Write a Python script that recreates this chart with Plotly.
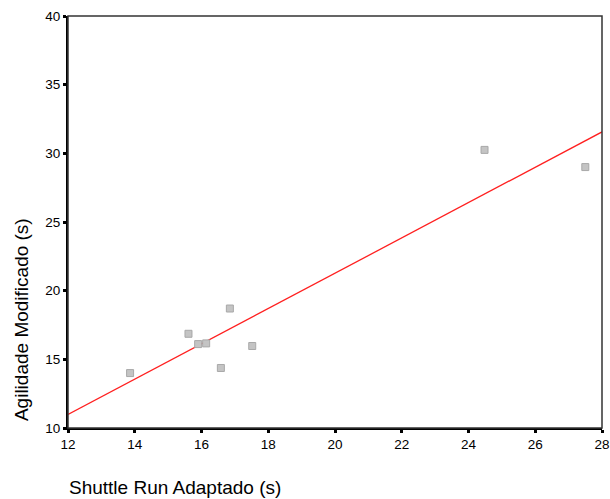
import numpy as np
import plotly.graph_objects as go

shuttle_run = [13.86, 15.61, 15.90, 16.14, 16.58, 16.85, 17.52, 24.48, 27.50]
agilidade = [14.0, 16.86, 16.11, 16.16, 14.37, 18.7, 15.97, 30.25, 29.0]
x_ticks = [12, 14, 16, 18, 20, 22, 24, 26, 28]
y_ticks = [10, 15, 20, 25, 30, 35, 40]
x_range = [12, 28]
y_range = [10, 40]

slope, intercept = np.polyfit(shuttle_run, agilidade, 1)
fit_x = np.array(x_range, dtype=float)
fit_y = slope * fit_x + intercept

fig = go.Figure()
fig.add_trace(go.Scatter(x=fit_x, y=fit_y, mode="lines",
                         line=dict(color="#ff2020", width=1.3),
                         hoverinfo="skip", showlegend=False))
fig.add_trace(go.Scatter(x=shuttle_run, y=agilidade, mode="markers",
                         marker=dict(symbol="square", size=7, color="#c4c4c4",
                                     line=dict(color="#a9a9a9", width=1)),
                         showlegend=False))

font = "Liberation Sans, Arial, sans-serif"
fig.update_layout(
    width=610, height=499,
    margin=dict(l=68, r=8, t=16, b=71, autoexpand=False),
    paper_bgcolor="white", plot_bgcolor="white",
    font=dict(family=font, size=13, color="black"),
    xaxis=dict(range=x_range, tickvals=x_ticks, showgrid=False, zeroline=False,
               showline=True, linecolor="black", linewidth=2,
               ticks="outside", ticklen=3, tickwidth=3, tickcolor="black",
               tickfont=dict(size=13.5), automargin=False),
    yaxis=dict(range=y_range, tickvals=y_ticks, showgrid=False, zeroline=False,
               showline=True, linecolor="black", linewidth=2,
               ticks="outside", ticklen=3, tickwidth=3, tickcolor="black",
               tickfont=dict(size=13.5), automargin=False),
    shapes=[dict(type="rect", xref="paper", yref="paper", x0=0, y0=0, x1=1, y1=1,
                 line=dict(color="#333333", width=1.5))],
    annotations=[
        dict(text="Shuttle Run Adaptado (s)", xref="paper", yref="paper",
             x=-0.002, y=-0.1456, xanchor="left", yanchor="middle", showarrow=False,
             font=dict(size=19, family=font)),
        dict(text="Agilidade Modificado (s)", xref="paper", yref="paper",
             x=-0.088, y=0.262, xanchor="center", yanchor="middle", textangle=-90,
             showarrow=False, font=dict(size=19, family=font)),
    ],
)
fig.write_html("out.html", config={"displayModeBar": False},
               post_script="document.body.style.margin='0';document.body.style.overflow='hidden';")
